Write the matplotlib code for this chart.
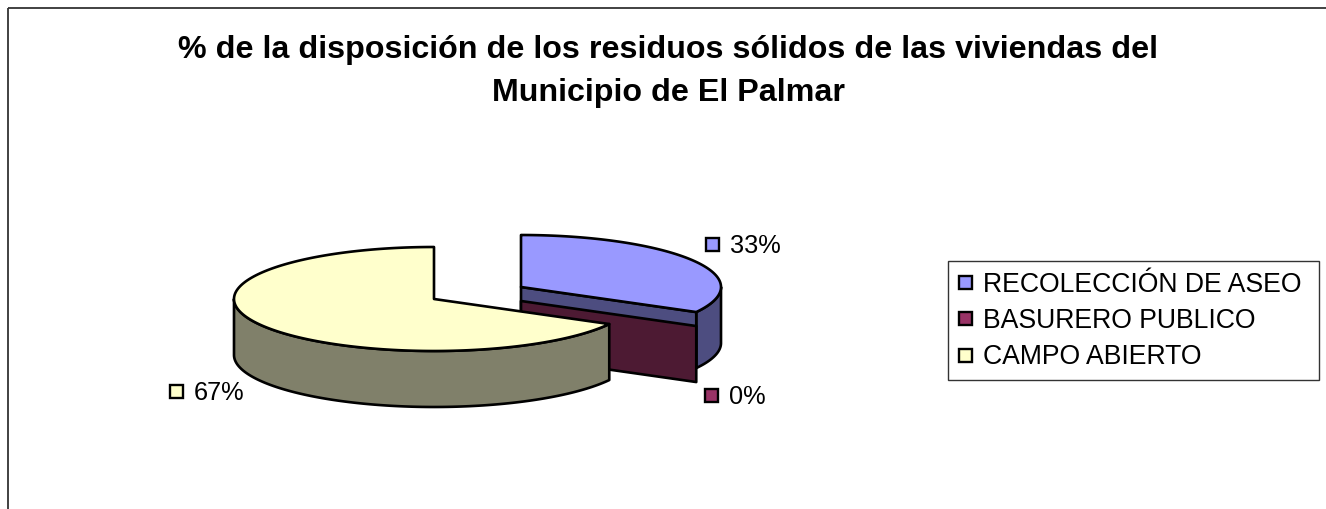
import numpy as np
import matplotlib
matplotlib.use("Agg")
import matplotlib.pyplot as plt
from matplotlib.patches import Polygon, Rectangle

# ---------------- data ----------------
categories = ["RECOLECCIÓN DE ASEO", "BASURERO PUBLICO", "CAMPO ABIERTO"]
values = [33, 0, 67]
pct_labels = ["33%", "0%", "67%"]
title_lines = ["% de la disposición de los residuos sólidos de las viviendas del",
               "Municipio de El Palmar"]

# ---------------- style / layout ----------------
top_colors = ["#9999FF", "#993366", "#FFFFCC"]
side_colors = ["#4D4D80", "#4D1A33", "#80806A"]
center = (434.0, 299.0)
Rx, Ry, depth = 200.0, 52.0, 56.0
explode_px = [(87.0, -12.0), (87.0, 2.0), (0.0, 0.0)]
label_anchor = [(712, 244), (711, 395), (176, 391)]
draw_order = [0, 1, 2]
FONT = "Liberation Sans"

W, H = 1326, 509
fig = plt.figure(figsize=(W / 100, H / 100), dpi=100)
ax = fig.add_axes([0, 0, 1, 1])
ax.set_xlim(0, W)
ax.set_ylim(H, 0)
ax.axis("off")

# chart border (only top and left are visible in the crop)
ax.add_patch(Rectangle((7.5, 7.5), W + 50, H + 50, fill=False,
                       ec="#333333", lw=1.3, zorder=1))

# title
ax.text(668, 58, title_lines[0], ha="center", va="baseline", fontsize=23.2,
        fontweight="bold", family=FONT, zorder=5)
ax.text(668, 101, title_lines[1], ha="center", va="baseline", fontsize=23.2,
        fontweight="bold", family=FONT, zorder=5)

# ---------------- 3D pie ----------------
total = float(sum(values))
bounds = []
b = 90.0
for v in values:
    a = b - v / total * 360.0
    bounds.append((a, b))
    b = a


def rim(c, t):
    tr = np.radians(t)
    return np.column_stack([c[0] + Rx * np.cos(tr), c[1] - Ry * np.sin(tr)])


z = 10
lw = 1.9
for i in draw_order:
    a, b = bounds[i]
    c = (center[0] + explode_px[i][0], center[1] + explode_px[i][1])
    # outer curved side: visible where sin(t) < 0
    for k in range(-2, 3):
        lo = max(a, -180 + 360 * k)
        hi = min(b, 360 * k)
        if hi - lo > 1e-6:
            ts = np.linspace(lo, hi, 120)
            top = rim(c, ts)
            bot = top + np.array([0, depth])
            poly = np.vstack([top, bot[::-1]])
            ax.add_patch(Polygon(poly, closed=True, fc=side_colors[i], ec="black",
                                 lw=lw, joinstyle="round", zorder=z))
            z += 1
    # radial faces
    for ang, vis in ((a, np.cos(np.radians(a)) > 1e-9), (b, np.cos(np.radians(b)) < -1e-9)):
        if vis:
            p = rim(c, np.array([ang]))[0]
            poly = np.array([c, p, p + [0, depth], (c[0], c[1] + depth)])
            ax.add_patch(Polygon(poly, closed=True, fc=side_colors[i], ec="black",
                                 lw=lw, joinstyle="round", zorder=z))
            z += 1
    # top
    if b - a > 1e-6:
        ts = np.linspace(a, b, 240)
        poly = np.vstack([[c], rim(c, ts)])
        ax.add_patch(Polygon(poly, closed=True, fc=top_colors[i], ec="black",
                             lw=lw, joinstyle="round", zorder=z))
        z += 1

# data labels
for i, (lx, ly) in enumerate(label_anchor):
    ax.add_patch(Rectangle((lx - 6.5, ly - 6.5), 13, 13, fc=top_colors[i],
                           ec="black", lw=1.7, zorder=50))
    ax.text(lx + 18, ly + 9, pct_labels[i], ha="left", va="baseline",
            fontsize=18.3, family=FONT, zorder=50)

# legend
ax.add_patch(Rectangle((948, 261), 371, 119, fill=False, ec="#333333", lw=1.0, zorder=50))
row_y = [282, 318, 355]
for i, name in enumerate(categories):
    ax.add_patch(Rectangle((965 - 6.5, row_y[i] - 6.5), 13, 13, fc=top_colors[i],
                           ec="black", lw=1.7, zorder=51))
    ax.text(983, row_y[i] + 9.5, name, ha="left", va="baseline", fontsize=19.2,
            family=FONT, zorder=51)

fig.savefig("out.png", dpi=100)
